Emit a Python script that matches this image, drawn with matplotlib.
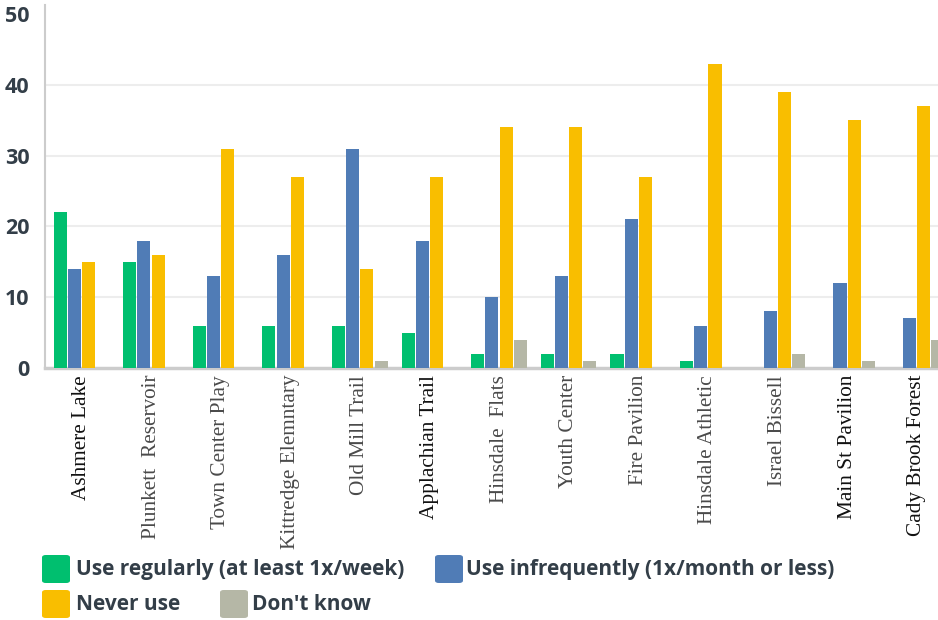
import matplotlib
matplotlib.use("Agg")
import matplotlib.pyplot as plt
import numpy as np
from matplotlib.patches import FancyBboxPatch

categories = ["Ashmere Lake", "Plunkett  Reservoir", "Town Center Play", "Kittredge Elemntary",
              "Old Mill Trail", "Applachian Trail", "Hinsdale  Flats", "Youth Center",
              "Fire Pavilion", "Hinsdale Athletic", "Israel Bissell", "Main St Pavilion",
              "Cady Brook Forest"]
series_names = ["Use regularly (at least 1x/week)", "Use infrequently (1x/month or less)",
                "Never use", "Don't know"]
use_regularly = [22, 15, 6, 6, 6, 5, 2, 2, 2, 1, 0, 0, 0]
use_infrequently = [14, 18, 13, 16, 31, 18, 10, 13, 21, 6, 8, 12, 7]
never_use = [15, 16, 31, 27, 14, 27, 34, 34, 27, 43, 39, 35, 37]
dont_know = [0, 0, 0, 0, 1, 0, 4, 1, 0, 0, 2, 1, 4]
yticks = [0, 10, 20, 30, 40, 50]

colors = ["#00BF6F", "#507CB6", "#F9BE00", "#B5B7A6"]
dark_labels = {"Ashmere Lake", "Applachian Trail", "Main St Pavilion", "Cady Brook Forest"}

W, H = 938, 620
fig = plt.figure(figsize=(W / 100, H / 100), dpi=100)
ax = fig.add_axes([45 / W, 1 - 368 / H, 1 - 45 / W, (368 - 5) / H])

x = np.arange(len(categories))
step = 0.204
bw = 0.187
all_series = [use_regularly, use_infrequently, never_use, dont_know]
for i, (vals, c) in enumerate(zip(all_series, colors)):
    ax.bar(x + (i - 1.5) * step, vals, width=bw, color=c, linewidth=0, zorder=3)

ax.set_xlim(-0.524, len(categories) - 1 + 0.306)
ax.set_ylim(0, 51.27)
ax.set_yticks(yticks)
ax.set_yticklabels([str(t) for t in yticks], fontsize=15.5, fontweight="bold",
                   color="#333E48", family="Open Sans")
for t in yticks[1:-1]:
    ax.axhline(t, color="#EDEDED", linewidth=1.5, zorder=1)
ax.tick_params(axis="y", length=0, pad=11)
ax.tick_params(axis="x", length=0, pad=5)
ax.set_xticks(x)
ax.set_xticklabels(categories, rotation=90, fontsize=15.3, family="Liberation Serif",
                   va="top", ha="center")
for lbl in ax.get_xticklabels():
    lbl.set_color("#111111" if lbl.get_text() in dark_labels else "#4A4A4A")

for s in ["top", "right"]:
    ax.spines[s].set_visible(False)
ax.spines["left"].set_color("#CCCCCC")
ax.spines["left"].set_linewidth(1.5)
ax.spines["bottom"].set_color("#CCCCCC")
ax.spines["bottom"].set_linewidth(2.5)

# legend (manual layout)
legend_items = [
    (42, 555, 76), (435, 555, 466),
    (42, 590, 76), (220, 590, 252),
]
for (sx, sy, tx), name, c in zip(legend_items, series_names, colors):
    p = FancyBboxPatch((sx / W, 1 - (sy + 28) / H), 28 / W, 28 / H,
                       boxstyle="round,pad=0,rounding_size=0.004",
                       transform=fig.transFigure, facecolor=c, edgecolor="none")
    fig.patches.append(p)
    fig.text(tx / W, 1 - (sy + 14) / H, name, fontsize=15, fontweight="bold",
             color="#333E48", va="center", ha="left", family="Open Sans")

fig.savefig("out.png", dpi=100)
